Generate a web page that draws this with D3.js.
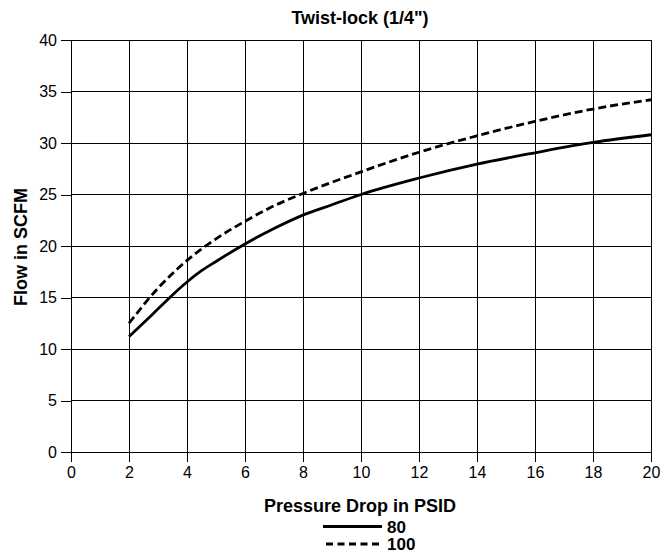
<!DOCTYPE html>
<html>
<head>
<meta charset="utf-8">
<script src="https://cdn.jsdelivr.net/npm/d3@7"></script>
<style>
  html, body { margin: 0; padding: 0; background: #fff; }
  svg { display: block; font-family: "Liberation Sans", Arial, sans-serif; }
</style>
</head>
<body>
<svg id="chart" width="667" height="556"></svg>
<script>
// ---- data ----
const titleText = 'Twist-lock (1/4")';
const xLabel = "Pressure Drop in PSID";
const yLabel = "Flow in SCFM";
const xTicks = [0, 2, 4, 6, 8, 10, 12, 14, 16, 18, 20];
const yTicks = [0, 5, 10, 15, 20, 25, 30, 35, 40];
const seriesNames = ["80", "100"];
const pressure80 = [2, 2.75, 3.5, 4, 4.5, 5, 6, 7, 8, 9, 10, 12, 14, 16, 18, 20];
const flow80 = [11.2, 13.2, 15.25, 16.5, 17.6, 18.5, 20.2, 21.7, 23.0, 24.0, 25.0, 26.6, 27.95, 29.05, 30.05, 30.8];
const pressure100 = [2, 3, 4, 5, 6, 7, 8, 10, 12, 14, 16, 18, 20];
const flow100 = [12.5, 15.9, 18.6, 20.7, 22.4, 23.9, 25.1, 27.2, 29.1, 30.7, 32.1, 33.3, 34.2];

// ---- layout ----
const svg = d3.select("#chart");
const m = { left: 71, top: 40, right: 651, bottom: 452 };
const x = d3.scaleLinear().domain([0, 20]).range([m.left, m.right]);
const y = d3.scaleLinear().domain([0, 40]).range([m.bottom, m.top]);

// grid
const grid = svg.append("g").attr("stroke", "#000").attr("stroke-width", 1).attr("shape-rendering", "crispEdges");
grid.selectAll("line.v").data(xTicks).join("line").attr("class", "v")
  .attr("x1", d => x(d)).attr("x2", d => x(d)).attr("y1", y(40)).attr("y2", y(0));
grid.selectAll("line.h").data(yTicks).join("line").attr("class", "h")
  .attr("x1", x(0)).attr("x2", x(20)).attr("y1", d => y(d)).attr("y2", d => y(d));

// axes
const xAxis = svg.append("g").attr("transform", `translate(0,${m.bottom})`)
  .call(d3.axisBottom(x).tickValues(xTicks).tickSize(10).tickPadding(5).tickFormat(d3.format("d")));
const yAxis = svg.append("g").attr("transform", `translate(${m.left},0)`)
  .call(d3.axisLeft(y).tickValues(yTicks).tickSize(10).tickPadding(4).tickFormat(d3.format("d")));
[xAxis, yAxis].forEach(a => {
  a.select(".domain").remove();
  a.selectAll(".tick line").attr("stroke", "#000").attr("shape-rendering", "crispEdges");
  a.selectAll(".tick text").attr("fill", "#000").style("font-size", "16px")
    .style("font-family", '"Liberation Sans", Arial, sans-serif');
});

// lines
const line = d3.line().x(d => x(d[0])).y(d => y(d[1])).curve(d3.curveMonotoneX);
svg.append("path").datum(d3.zip(pressure80, flow80)).attr("d", line)
  .attr("fill", "none").attr("stroke", "#000").attr("stroke-width", 2.8);
svg.append("path").datum(d3.zip(pressure100, flow100)).attr("d", line)
  .attr("fill", "none").attr("stroke", "#000").attr("stroke-width", 2.8).attr("stroke-dasharray", "8,4");

// title & labels
svg.append("text").attr("x", 360).attr("y", 24).attr("text-anchor", "middle")
  .style("font-size", "18px").style("font-weight", "bold").text(titleText);
svg.append("text").attr("x", 360).attr("y", 512).attr("text-anchor", "middle")
  .style("font-size", "18px").style("font-weight", "bold").text(xLabel);
svg.append("text").attr("transform", "translate(27,247) rotate(-90)").attr("text-anchor", "middle")
  .style("font-size", "18px").style("font-weight", "bold").text(yLabel);

// legend
const leg = svg.append("g");
const legY = [526.5, 544];
seriesNames.forEach((name, i) => {
  leg.append("line").attr("x1", i === 0 ? 323 : 326).attr("x2", 382)
    .attr("y1", legY[i]).attr("y2", legY[i]).attr("stroke", "#000").attr("stroke-width", 3)
    .attr("stroke-dasharray", i === 0 ? null : "7,4.5");
  leg.append("text").attr("x", 387).attr("y", legY[i] + 6)
    .style("font-size", "17px").style("font-weight", "bold").text(name);
});
</script>
</body>
</html>
